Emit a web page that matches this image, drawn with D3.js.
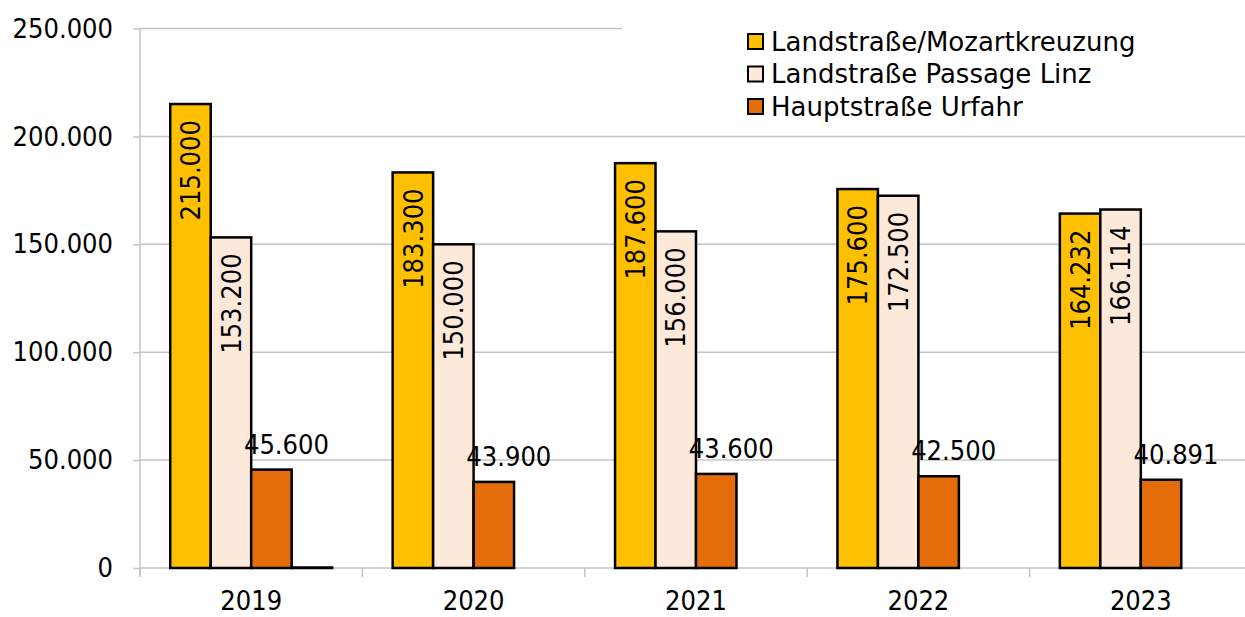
<!DOCTYPE html>
<html>
<head>
<meta charset="utf-8">
<script src="https://cdn.jsdelivr.net/npm/d3@7"></script>
<style>
  body { margin: 0; background: #fff; }
  svg { display: block; font-family: "DejaVu Sans Condensed", "DejaVu Sans", sans-serif; }
</style>
</head>
<body>
<div class="barChart"></div>
<script>
// chart data
var years = ["2019", "2020", "2021", "2022", "2023"];
var seriesNames = ["Landstraße/Mozartkreuzung", "Landstraße Passage Linz", "Hauptstraße Urfahr"];
var mozart = [215000, 183300, 187600, 175600, 164232];
var passage = [153200, 150000, 156000, 172500, 166114];
var urfahr = [45600, 39900, 43600, 42500, 40891];
var urfahrLabels = ["45.600", "43.900", "43.600", "42.500", "40.891"];
var extraSeries = [0, null, null, null, null]; // unnamed 4th series, only 2019
var yTicks = [0, 50000, 100000, 150000, 200000, 250000];
var colors = ["#FFC000", "#FDE9D9", "#E46C0A", "#FFFFFF"];

var width = 1245, height = 617;
var margin = {top: 28.5, left: 140, right: -7, bottom: 49};

var svg = d3.select(".barChart").append("svg")
    .attr("width", width)
    .attr("height", height);

var x = d3.scaleBand().domain(years).range([margin.left, width - margin.right]).padding(0);
var y = d3.scaleLinear().domain([0, 250000]).range([height - margin.bottom, margin.top]);

var fmt = function(v) { return v === 0 ? "0" : d3.format(",")(v).replace(/,/g, "."); };

// gridlines
svg.append("g").selectAll("line")
    .data(yTicks)
    .enter().append("line")
      .attr("x1", margin.left).attr("x2", width)
      .attr("y1", function(d) { return y(d); })
      .attr("y2", function(d) { return y(d); })
      .attr("stroke", "#c4c4c4")
      .attr("stroke-width", 1.5);

// y axis
var yAxis = svg.append("g")
    .attr("transform", "translate(" + margin.left + ",0)")
    .call(d3.axisLeft(y).tickValues(yTicks).tickSize(7).tickPadding(20).tickFormat(fmt));
yAxis.select(".domain").attr("stroke", "#c4c4c4").attr("stroke-width", 1.5)
    .attr("d", "M0," + y(250000) + "V" + (y(0) + 8));
yAxis.selectAll(".tick line").attr("stroke", "#c4c4c4").attr("stroke-width", 1.5);
yAxis.selectAll(".tick text").attr("font-size", 27).attr("fill", "#000")
    .attr("font-family", "DejaVu Sans Condensed");

// x axis ticks at category boundaries
svg.append("g").selectAll("line")
    .data(years)
    .enter().append("line")
      .attr("x1", function(d) { return x(d); })
      .attr("x2", function(d) { return x(d); })
      .attr("y1", y(0)).attr("y2", y(0) + 9)
      .attr("stroke", "#c4c4c4")
      .attr("stroke-width", 1.5);

svg.append("g").selectAll("text")
    .data(years)
    .enter().append("text")
      .attr("x", function(d) { return x(d) + x.bandwidth() / 2; })
      .attr("y", 610)
      .attr("text-anchor", "middle")
      .attr("font-size", 27)
      .text(function(d) { return d; });

// bars
var slot = x.bandwidth() * 0.728 / 4;
var offset = (x.bandwidth() - slot * 4) / 2;
var allSeries = [mozart, passage, urfahr, extraSeries];

allSeries.forEach(function(vals, si) {
  var g = svg.append("g");
  var data = years.map(function(yr, i) { return {year: yr, v: vals[i], i: i}; })
      .filter(function(d) { return d.v !== null; });
  g.selectAll("rect")
    .data(data)
    .enter().append("rect")
      .attr("x", function(d) { return x(d.year) + offset + si * slot; })
      .attr("y", function(d) { return Math.min(y(d.v), y(0) - 0.5); })
      .attr("width", slot)
      .attr("height", function(d) { return Math.max(0.5, y(0) - y(d.v)); })
      .attr("fill", colors[si])
      .attr("stroke", "#000")
      .attr("stroke-width", 2.5);
});

// rotated labels inside first two series
[mozart, passage].forEach(function(vals, si) {
  svg.append("g").selectAll("text")
    .data(vals)
    .enter().append("text")
      .attr("transform", function(d, i) {
        var cx = x(years[i]) + offset + si * slot + slot / 2;
        return "translate(" + cx + "," + (y(d) + 16) + ") rotate(-90)";
      })
      .attr("text-anchor", "end")
      .attr("dy", "0.36em")
      .attr("font-size", 27)
      .text(function(d) { return fmt(d); });
});

// labels above third series
svg.append("g").selectAll("text")
    .data(urfahr)
    .enter().append("text")
      .attr("x", function(d, i) { return x(years[i]) + offset + 2 * slot + slot / 2 + 15; })
      .attr("y", function(d) { return y(d) - 16; })
      .attr("text-anchor", "middle")
      .attr("font-size", 27)
      .text(function(d, i) { return urfahrLabels[i]; });

// legend
var legend = svg.append("g");
legend.append("rect")
    .attr("x", 622).attr("y", 20).attr("width", width - 622).attr("height", 104)
    .attr("fill", "#fff");
var rows = legend.selectAll("g.row")
    .data(seriesNames)
    .enter().append("g")
      .attr("class", "row")
      .attr("transform", function(d, i) { return "translate(748," + (41.5 + i * 32.5) + ")"; });
rows.append("rect")
    .attr("x", 0).attr("y", -7.5).attr("width", 15).attr("height", 15)
    .attr("fill", function(d, i) { return colors[i]; })
    .attr("stroke", "#000").attr("stroke-width", 2);
rows.append("text")
    .attr("x", 23)
    .attr("dy", "0.36em")
    .attr("font-size", 26)
    .attr("font-family", "DejaVu Sans")
    .text(function(d) { return d; });
</script>
</body>
</html>
